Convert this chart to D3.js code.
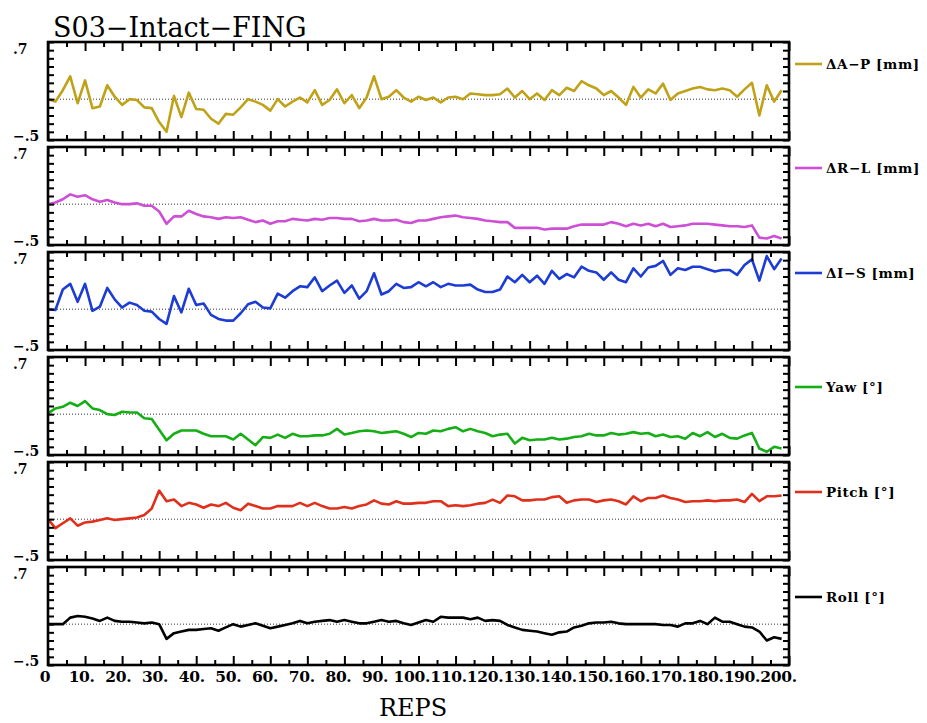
<!DOCTYPE html>
<html>
<head>
<meta charset="utf-8">
<script src="https://cdn.jsdelivr.net/npm/d3@7"></script>
<style>
  body { margin: 0; background: #fff; }
  svg { display: block; }
</style>
</head>
<body>
<div id="chart"></div>
<script>
const width = 927;
const height = 723;
const margin = { top: 42, right: 138, bottom: 58, left: 48 };
const panelH = 98;
const panelGap = 7;

// reps sampled every 2
const reps = d3.range(0, 200, 2);

const apValues = [0.00,-0.03,0.11,0.28,-0.05,0.23,-0.11,-0.09,0.17,0.03,
  -0.07,0.00,-0.01,-0.10,-0.11,-0.28,-0.40,0.04,-0.22,0.08,
  -0.12,-0.13,-0.24,-0.30,-0.18,-0.19,-0.10,0.00,-0.03,-0.07,
  -0.14,0.00,-0.09,-0.03,0.02,-0.04,0.11,-0.07,-0.01,0.12,
  -0.05,0.05,-0.11,0.02,0.28,0.00,0.03,0.11,0.02,-0.03,
  0.03,-0.01,0.02,-0.04,0.02,0.03,0.00,0.07,0.06,0.05,
  0.05,0.06,0.13,0.02,0.10,0.00,0.07,-0.01,0.11,0.05,
  0.14,0.10,0.22,0.17,0.13,0.05,0.10,0.02,-0.07,0.15,
  0.02,0.12,0.07,0.19,-0.01,0.07,0.10,0.13,0.15,0.12,
  0.11,0.13,0.11,0.03,0.12,0.20,-0.20,0.17,-0.03,0.11];

const rlValues = [0.00,0.02,0.06,0.12,0.09,0.11,0.06,0.03,0.05,0.02,
  0.00,0.00,0.01,-0.02,-0.02,-0.09,-0.24,-0.15,-0.15,-0.08,
  -0.12,-0.15,-0.16,-0.18,-0.16,-0.17,-0.16,-0.19,-0.22,-0.20,
  -0.24,-0.21,-0.21,-0.18,-0.19,-0.20,-0.18,-0.19,-0.17,-0.17,
  -0.18,-0.18,-0.21,-0.20,-0.18,-0.20,-0.20,-0.19,-0.22,-0.23,
  -0.20,-0.20,-0.18,-0.16,-0.15,-0.14,-0.16,-0.17,-0.18,-0.20,
  -0.21,-0.22,-0.22,-0.29,-0.29,-0.29,-0.29,-0.31,-0.30,-0.30,
  -0.30,-0.27,-0.25,-0.25,-0.25,-0.25,-0.22,-0.24,-0.27,-0.24,
  -0.26,-0.24,-0.27,-0.24,-0.28,-0.27,-0.26,-0.24,-0.24,-0.24,
  -0.25,-0.26,-0.27,-0.27,-0.28,-0.26,-0.41,-0.42,-0.39,-0.42];

const isValues = [0.00,-0.01,0.24,0.31,0.09,0.31,-0.02,0.03,0.26,0.12,
  0.02,0.08,0.05,-0.02,-0.03,-0.12,-0.18,0.16,-0.04,0.25,
  0.05,0.07,-0.07,-0.12,-0.14,-0.14,-0.05,0.06,0.09,0.02,
  0.01,0.19,0.14,0.22,0.28,0.27,0.39,0.22,0.29,0.35,
  0.20,0.29,0.13,0.22,0.44,0.18,0.22,0.31,0.26,0.27,
  0.33,0.28,0.33,0.27,0.31,0.29,0.29,0.30,0.24,0.21,
  0.21,0.24,0.40,0.33,0.42,0.33,0.41,0.31,0.47,0.37,
  0.43,0.39,0.52,0.47,0.45,0.36,0.45,0.36,0.33,0.50,
  0.40,0.51,0.53,0.59,0.42,0.50,0.48,0.52,0.52,0.49,
  0.46,0.48,0.48,0.42,0.54,0.61,0.35,0.65,0.49,0.62];

const yawValues = [0.01,0.07,0.09,0.14,0.10,0.16,0.07,0.05,0.00,-0.01,
  0.03,0.02,0.02,-0.05,-0.06,-0.19,-0.32,-0.24,-0.20,-0.20,
  -0.20,-0.24,-0.27,-0.27,-0.27,-0.31,-0.24,-0.31,-0.38,-0.28,
  -0.29,-0.25,-0.29,-0.24,-0.27,-0.27,-0.26,-0.26,-0.24,-0.18,
  -0.25,-0.23,-0.21,-0.20,-0.21,-0.23,-0.22,-0.21,-0.24,-0.28,
  -0.23,-0.24,-0.20,-0.21,-0.18,-0.16,-0.21,-0.18,-0.21,-0.23,
  -0.27,-0.25,-0.24,-0.36,-0.29,-0.32,-0.31,-0.31,-0.29,-0.31,
  -0.30,-0.28,-0.27,-0.24,-0.26,-0.26,-0.23,-0.25,-0.24,-0.22,
  -0.24,-0.23,-0.27,-0.25,-0.28,-0.27,-0.30,-0.23,-0.27,-0.22,
  -0.28,-0.24,-0.29,-0.30,-0.26,-0.23,-0.42,-0.46,-0.40,-0.42];

const pitchValues = [0.00,-0.11,-0.05,0.01,-0.08,-0.04,-0.03,-0.01,0.01,-0.01,
  0.00,0.01,0.02,0.05,0.13,0.35,0.22,0.24,0.16,0.20,
  0.18,0.14,0.18,0.16,0.20,0.14,0.11,0.19,0.16,0.13,
  0.13,0.16,0.16,0.16,0.20,0.16,0.20,0.16,0.13,0.13,
  0.15,0.13,0.16,0.18,0.23,0.19,0.18,0.22,0.19,0.19,
  0.20,0.20,0.22,0.22,0.16,0.17,0.16,0.17,0.19,0.20,
  0.24,0.20,0.29,0.28,0.23,0.23,0.24,0.24,0.27,0.28,
  0.20,0.23,0.24,0.24,0.21,0.23,0.24,0.22,0.18,0.28,
  0.22,0.26,0.26,0.29,0.26,0.24,0.21,0.22,0.22,0.23,
  0.22,0.23,0.23,0.24,0.21,0.31,0.22,0.28,0.28,0.29];

const rollValues = [0.00,0.00,0.00,0.08,0.10,0.09,0.07,0.04,0.08,0.04,
  0.03,0.03,0.02,0.01,0.02,0.00,-0.18,-0.11,-0.09,-0.07,
  -0.07,-0.06,-0.05,-0.08,-0.04,0.00,-0.03,-0.01,0.01,-0.02,
  -0.05,-0.03,-0.01,0.01,0.04,0.01,0.03,0.04,0.05,0.03,
  0.05,0.03,0.01,0.01,0.03,0.05,0.03,0.04,0.01,-0.01,
  0.02,0.05,0.03,0.09,0.08,0.08,0.08,0.06,0.08,0.04,
  0.05,0.04,-0.01,-0.04,-0.07,-0.08,-0.09,-0.11,-0.13,-0.10,
  -0.09,-0.04,-0.02,0.01,0.02,0.02,0.03,0.01,0.00,0.00,
  0.00,0.00,0.00,-0.01,-0.01,-0.03,0.01,0.01,0.04,0.00,
  0.08,0.03,0.03,0.00,-0.03,-0.04,-0.09,-0.20,-0.16,-0.18];

const seriesNames = ["ΔA−P [mm]", "ΔR−L [mm]", "ΔI−S [mm]", "Yaw [°]", "Pitch [°]", "Roll [°]"];
const seriesValues = [apValues, rlValues, isValues, yawValues, pitchValues, rollValues];
const seriesColors = ["#c0a218", "#cc4fd6", "#1c3cd4", "#16ae16", "#e0301c", "#000000"];
const legendOffsets = [22, 21, 21, 30, 30, 30];

const xMajorTicks = d3.range(0, 201, 10);
const xMinorTicks = d3.range(5, 200, 10);
const xTickLabels = xMajorTicks.map(d => d === 0 ? "0" : d + ".");
const yTicks = d3.range(-5, 8).map(d => d / 10);
const yTickLabels = [".7", "−.5"];

const svg = d3.select("#chart")
  .append("svg")
  .attr("width", width)
  .attr("height", height)
  .style("background", "#fff");

const x = d3.scaleLinear()
  .domain([0, 200])
  .range([margin.left, width - margin.right]);

// title
svg.append("text")
  .attr("x", 53)
  .attr("y", 37)
  .attr("font-family", "DejaVu Serif")
  .attr("font-size", 27)
  .text("S03−Intact−FING");

seriesValues.forEach((vals, i) => {
  const top = margin.top + i * (panelH + panelGap);
  const y = d3.scaleLinear().domain([-0.5, 0.7]).range([top + panelH, top]);
  const g = svg.append("g");

  // zero line
  g.append("line")
    .attr("x1", x(0)).attr("x2", x(200))
    .attr("y1", y(0)).attr("y2", y(0))
    .attr("stroke", "#333")
    .attr("stroke-width", 1)
    .attr("stroke-dasharray", "1 2");

  const line = d3.line()
    .x((d, j) => x(reps[j]))
    .y(d => y(d));

  g.append("path")
    .datum(vals)
    .attr("fill", "none")
    .attr("stroke", seriesColors[i])
    .attr("stroke-width", 2.6)
    .attr("stroke-linejoin", "round")
    .attr("d", line);

  // ticks, all pointing inward
  const tickAxes = [
    [d3.axisBottom(x).tickValues(xMajorTicks).tickSize(9), `translate(0,${top})`],
    [d3.axisBottom(x).tickValues(xMinorTicks).tickSize(5), `translate(0,${top})`],
    [d3.axisTop(x).tickValues(xMajorTicks).tickSize(9), `translate(0,${top + panelH})`],
    [d3.axisTop(x).tickValues(xMinorTicks).tickSize(5), `translate(0,${top + panelH})`],
    [d3.axisRight(y).tickValues(yTicks).tickSize(6), `translate(${x(0)},0)`],
    [d3.axisLeft(y).tickValues(yTicks).tickSize(6), `translate(${x(200)},0)`]
  ];
  tickAxes.forEach(([ax, tr]) => {
    const a = g.append("g")
      .attr("transform", tr)
      .call(ax.tickFormat(""));
    a.select(".domain").remove();
    a.selectAll("line").attr("stroke", "#000").attr("stroke-width", 2);
  });

  g.append("rect")
    .attr("x", x(0))
    .attr("y", top)
    .attr("width", x(200) - x(0))
    .attr("height", panelH)
    .attr("fill", "none")
    .attr("stroke", "#000")
    .attr("stroke-width", 2.6);

  // y labels
  g.append("text")
    .attr("x", 13).attr("y", y(0.7) + 12)
    .attr("font-family", "DejaVu Serif")
    .attr("font-weight", "bold")
    .attr("font-size", 14)
    .text(yTickLabels[0]);
  g.append("text")
    .attr("x", 13).attr("y", y(-0.5) + 1)
    .attr("font-family", "DejaVu Serif")
    .attr("font-weight", "bold")
    .attr("font-size", 14)
    .text(yTickLabels[1]);

  // legend
  const ly = top + legendOffsets[i];
  g.append("line")
    .attr("x1", 795).attr("x2", 822)
    .attr("y1", ly).attr("y2", ly)
    .attr("stroke", seriesColors[i])
    .attr("stroke-width", 2.6);
  g.append("text")
    .attr("x", 826).attr("y", ly + 5)
    .attr("font-family", "DejaVu Serif")
    .attr("font-weight", "bold")
    .attr("font-size", 13.5)
    .attr("letter-spacing", 0.6)
    .text(seriesNames[i]);

  // x labels on the last panel
  if (i === seriesValues.length - 1) {
    g.selectAll(".xlab")
      .data(xMajorTicks)
      .join("text")
      .attr("class", "xlab")
      .attr("x", d => x(d) - 3 - (x(d) - x(0)) * 0.01)
      .attr("y", top + panelH + 17)
      .attr("text-anchor", "middle")
      .attr("font-family", "DejaVu Serif")
      .attr("font-weight", "bold")
      .attr("font-size", 15.5)
      .attr("letter-spacing", -0.3)
      .text((d, j) => xTickLabels[j]);
  }
});

svg.append("text")
  .attr("x", 413)
  .attr("y", 716)
  .attr("text-anchor", "middle")
  .attr("font-family", "DejaVu Serif")
  .attr("font-size", 24)
  .text("REPS");
</script>
</body>
</html>
